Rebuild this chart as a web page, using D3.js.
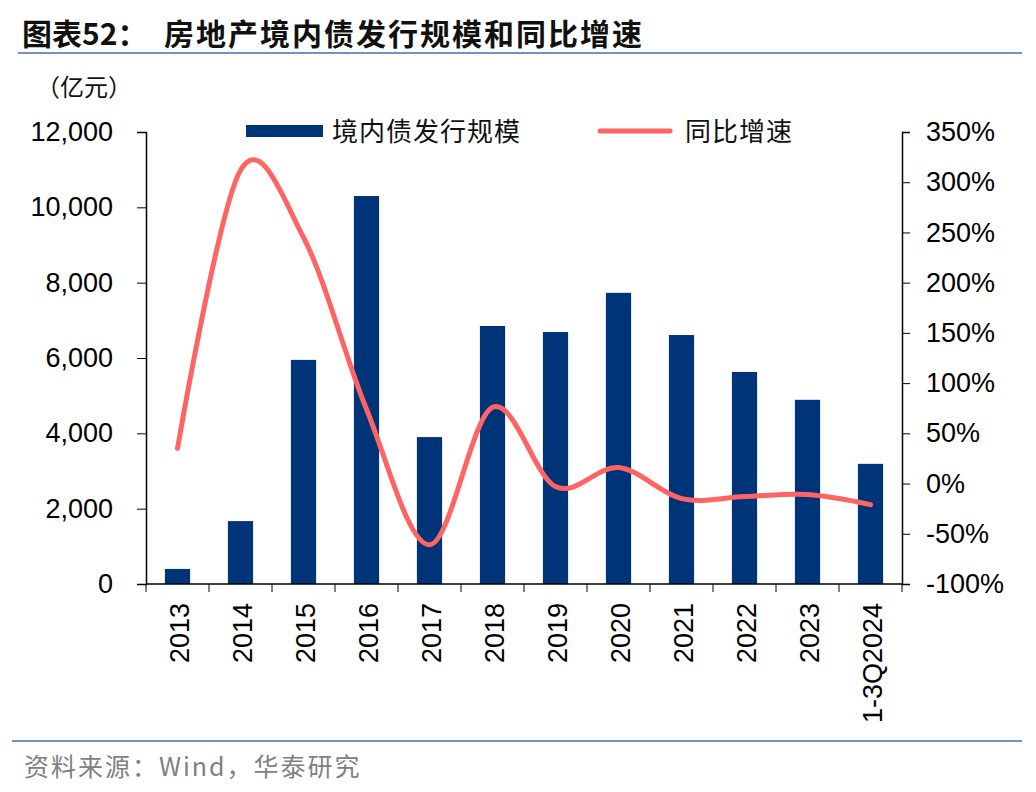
<!DOCTYPE html>
<html>
<head>
<meta charset="utf-8">
<script src="https://cdn.jsdelivr.net/npm/d3@7"></script>
<style>
  body { margin: 0; background: #fff; }
  svg text { font-family: "Liberation Sans", Arial, sans-serif; }
  .cjk { font-family: "Noto Sans CJK SC", sans-serif; }
</style>
</head>
<body>
<svg id="chart" width="1036" height="792"></svg>
<script>
const categories = ["2013", "2014", "2015", "2016", "2017", "2018", "2019", "2020", "2021", "2022", "2023", "1-3Q2024"]
const issuance = [400, 1670, 5950, 10300, 3900, 6850, 6690, 7730, 6610, 5630, 4890, 3190]
const growth = [0.35, 3.12, 2.45, 0.74, -0.61, 0.76, -0.03, 0.16, -0.15, -0.13, -0.11, -0.21]
const leftTicks = [0, 2000, 4000, 6000, 8000, 10000, 12000]
const rightTicks = [-1, -0.5, 0, 0.5, 1, 1.5, 2, 2.5, 3, 3.5]

const margin = { top: 132, right: 134, bottom: 208, left: 146 }
const width = 1036 - margin.left - margin.right
const height = 792 - margin.top - margin.bottom

const svg = d3.select("#chart")

// header and footer
svg.append("text").attr("class", "cjk")
  .attr("x", 22).attr("y", 45)
  .style("font-size", "30px").style("font-weight", "bold").attr("fill", "#111")
  .text("图表52：")
svg.append("text").attr("class", "cjk")
  .attr("x", 164).attr("y", 45)
  .style("font-size", "30px").style("font-weight", "bold").style("letter-spacing", "2px").attr("fill", "#111")
  .text("房地产境内债发行规模和同比增速")
svg.append("line").attr("x1", 18).attr("x2", 1022).attr("y1", 53).attr("y2", 53)
  .attr("stroke", "#7393bd").attr("stroke-width", 2)
svg.append("text").attr("class", "cjk")
  .attr("x", 36).attr("y", 96)
  .style("font-size", "24px").attr("fill", "#111")
  .text("（亿元）")
svg.append("line").attr("x1", 12).attr("x2", 1022).attr("y1", 741).attr("y2", 741)
  .attr("stroke", "#7393bd").attr("stroke-width", 2)
svg.append("text").attr("class", "cjk")
  .attr("x", 24).attr("y", 776)
  .style("font-size", "25px").style("letter-spacing", "2px").attr("fill", "#808080")
  .text("资料来源：Wind，华泰研究")

const g = svg.append("g").attr("transform", `translate(${margin.left}, ${margin.top})`)

const x = d3.scaleBand().domain(categories).range([0, width]).paddingInner(0.6).paddingOuter(0.3)
const y = d3.scaleLinear().domain([0, 12000]).range([height, 0])
const y2 = d3.scaleLinear().domain([-1, 3.5]).range([height, 0])

g.selectAll(".bar")
  .data(issuance)
  .enter()
  .append("rect")
  .attr("class", "bar")
  .attr("x", (d, i) => x(categories[i]))
  .attr("width", x.bandwidth())
  .attr("y", d => y(d))
  .attr("height", d => height - y(d))
  .attr("fill", "#003478")

const line = d3.line()
  .x((d, i) => x(categories[i]) + x.bandwidth() / 2)
  .y(d => y2(d))
  .curve(d3.curveCardinal.tension(0))

g.append("path")
  .datum(growth)
  .attr("d", line)
  .attr("fill", "none")
  .attr("stroke", "#ff6464")
  .attr("stroke-width", 5)
  .attr("stroke-linecap", "round")

const styleAxis = sel => {
  sel.selectAll("text").style("font-size", "27px").attr("fill", "#000")
  sel.selectAll("line").attr("stroke", "#000")
  sel.select(".domain").attr("stroke", "#000").attr("stroke-width", 1.5)
}

g.append("g")
  .call(d3.axisLeft(y).tickValues(leftTicks).tickFormat(d3.format(",")).tickSize(9).tickSizeOuter(9).tickPadding(24))
  .call(styleAxis)

g.append("g")
  .attr("transform", `translate(${width}, 0)`)
  .call(d3.axisRight(y2).tickValues(rightTicks).tickFormat(d => Math.round(d * 100) + "%").tickSize(8).tickSizeOuter(8).tickPadding(16))
  .call(styleAxis)

// category axis with ticks between groups
const xb = d3.scaleLinear().domain([0, categories.length]).range([0, width])
const xAxis = g.append("g").attr("transform", `translate(0, ${height})`)
xAxis.append("line").attr("x1", 0).attr("x2", width).attr("stroke", "#000").attr("stroke-width", 1.5)
xAxis.selectAll(".xt")
  .data(d3.range(categories.length + 1))
  .enter()
  .append("line")
  .attr("x1", d => xb(d)).attr("x2", d => xb(d))
  .attr("y1", 0).attr("y2", 8)
  .attr("stroke", "#000")
xAxis.selectAll(".xl")
  .data(categories)
  .enter()
  .append("text")
  .attr("transform", d => `translate(${x(d) + x.bandwidth() / 2 + 11}, 19) rotate(-90)`)
  .attr("text-anchor", "end")
  .style("font-size", "27px")
  .attr("fill", "#000")
  .text(d => d)

// legend
const legend = svg.append("g")
legend.append("rect").attr("x", 246).attr("y", 125).attr("width", 77).attr("height", 12).attr("fill", "#003478")
legend.append("text").attr("class", "cjk").attr("x", 332).attr("y", 141)
  .style("font-size", "26px").style("letter-spacing", "1px").attr("fill", "#111").text("境内债发行规模")
legend.append("line").attr("x1", 600).attr("x2", 670).attr("y1", 131).attr("y2", 131)
  .attr("stroke", "#ff6464").attr("stroke-width", 5).attr("stroke-linecap", "round")
legend.append("text").attr("class", "cjk").attr("x", 685).attr("y", 141)
  .style("font-size", "26px").style("letter-spacing", "1px").attr("fill", "#111").text("同比增速")
</script>
</body>
</html>
